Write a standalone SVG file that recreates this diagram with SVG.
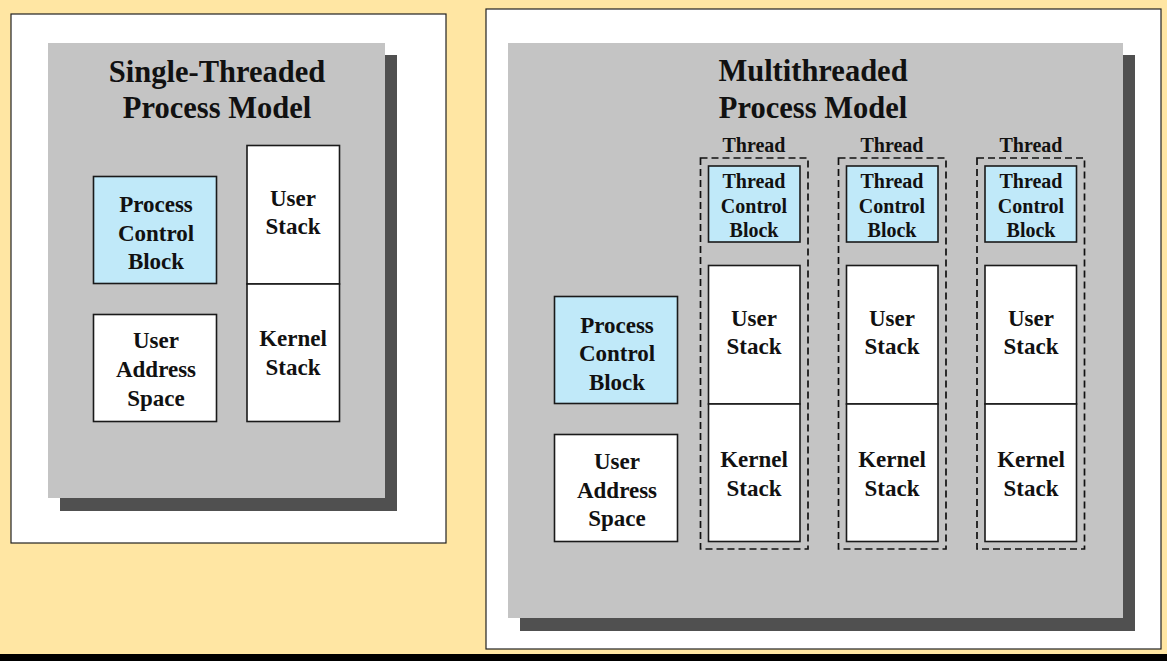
<svg xmlns="http://www.w3.org/2000/svg" width="1167" height="661" viewBox="0 0 1167 661">
  <style>
    .frame { fill: #ffffff; stroke: #222222; stroke-width: 1.2; }
    .panel { fill: #c4c4c4; }
    .shadow { fill: #505050; }
    .box { fill: #ffffff; stroke: #1a1a1a; stroke-width: 1.6; }
    .ctl { fill: #c0e9f9; stroke: #1a1a1a; stroke-width: 1.6; }
    .thread { fill: none; stroke: #111111; stroke-width: 1.7; stroke-dasharray: 7 4; }
    text { font-family: "Liberation Serif", "Times New Roman", serif; font-weight: bold; fill: #111111; text-anchor: middle; }
    .title { font-size: 30.5px; }
    .lbl { font-size: 23px; }
    .sm { font-size: 20px; }
  </style>

  <!-- page background -->
  <rect x="0" y="0" width="1167" height="661" fill="#ffe6a3"/>
  <rect x="0" y="654" width="1167" height="7" fill="#000000"/>

  <!-- single-threaded model -->
  <g id="single-threaded">
    <rect class="frame" x="11" y="14" width="435" height="529"/>
    <rect class="shadow" x="60" y="55" width="337" height="456"/>
    <rect class="panel" x="48" y="43" width="337" height="455"/>
    <text class="title" x="217" y="82">Single-Threaded</text>
    <text class="title" x="217" y="118">Process Model</text>

    <g id="st-pcb">
      <rect class="ctl" x="93.5" y="176.5" width="123" height="107"/>
      <text class="lbl" x="156" y="212">Process</text>
      <text class="lbl" x="156" y="241">Control</text>
      <text class="lbl" x="156" y="269">Block</text>
    </g>
    <g id="st-uas">
      <rect class="box" x="93.5" y="314.5" width="123" height="107"/>
      <text class="lbl" x="156" y="348">User</text>
      <text class="lbl" x="156" y="377">Address</text>
      <text class="lbl" x="156" y="406">Space</text>
    </g>
    <g id="st-user-stack">
      <rect class="box" x="247" y="145.5" width="92.5" height="138.5"/>
      <text class="lbl" x="293" y="206">User</text>
      <text class="lbl" x="293" y="234">Stack</text>
    </g>
    <g id="st-kernel-stack">
      <rect class="box" x="247" y="284" width="92.5" height="137.5"/>
      <text class="lbl" x="293" y="346">Kernel</text>
      <text class="lbl" x="293" y="375">Stack</text>
    </g>
  </g>

  <!-- multithreaded model -->
  <g id="multithreaded">
    <rect class="frame" x="486" y="9" width="675" height="640"/>
    <rect class="shadow" x="520" y="55" width="615" height="576"/>
    <rect class="panel" x="508" y="43" width="615" height="575"/>
    <text class="title" x="813" y="81">Multithreaded</text>
    <text class="title" x="813" y="118">Process Model</text>

    <g id="mt-pcb">
      <rect class="ctl" x="554.5" y="296.5" width="123" height="107"/>
      <text class="lbl" x="617" y="333">Process</text>
      <text class="lbl" x="617" y="361">Control</text>
      <text class="lbl" x="617" y="390">Block</text>
    </g>
    <g id="mt-uas">
      <rect class="box" x="554.5" y="434.5" width="123" height="107"/>
      <text class="lbl" x="617" y="469">User</text>
      <text class="lbl" x="617" y="498">Address</text>
      <text class="lbl" x="617" y="526">Space</text>
    </g>

    <g id="thread-1">
      <text class="sm" x="754" y="152">Thread</text>
      <rect class="thread" x="700.5" y="158" width="107.5" height="391"/>
      <rect class="ctl" x="708.5" y="166" width="91.5" height="76"/>
      <text class="sm" x="754" y="188">Thread</text>
      <text class="sm" x="754" y="213">Control</text>
      <text class="sm" x="754" y="237">Block</text>
      <rect class="box" x="708.5" y="265.5" width="91.5" height="138.5"/>
      <text class="lbl" x="754" y="326">User</text>
      <text class="lbl" x="754" y="354">Stack</text>
      <rect class="box" x="708.5" y="404" width="91.5" height="137.5"/>
      <text class="lbl" x="754" y="467">Kernel</text>
      <text class="lbl" x="754" y="496">Stack</text>
    </g>

    <g id="thread-2">
      <text class="sm" x="892" y="152">Thread</text>
      <rect class="thread" x="838.5" y="158" width="107.5" height="391"/>
      <rect class="ctl" x="846.5" y="166" width="91.5" height="76"/>
      <text class="sm" x="892" y="188">Thread</text>
      <text class="sm" x="892" y="213">Control</text>
      <text class="sm" x="892" y="237">Block</text>
      <rect class="box" x="846.5" y="265.5" width="91.5" height="138.5"/>
      <text class="lbl" x="892" y="326">User</text>
      <text class="lbl" x="892" y="354">Stack</text>
      <rect class="box" x="846.5" y="404" width="91.5" height="137.5"/>
      <text class="lbl" x="892" y="467">Kernel</text>
      <text class="lbl" x="892" y="496">Stack</text>
    </g>

    <g id="thread-3">
      <text class="sm" x="1031" y="152">Thread</text>
      <rect class="thread" x="977" y="158" width="107.5" height="391"/>
      <rect class="ctl" x="985" y="166" width="91.5" height="76"/>
      <text class="sm" x="1031" y="188">Thread</text>
      <text class="sm" x="1031" y="213">Control</text>
      <text class="sm" x="1031" y="237">Block</text>
      <rect class="box" x="985" y="265.5" width="91.5" height="138.5"/>
      <text class="lbl" x="1031" y="326">User</text>
      <text class="lbl" x="1031" y="354">Stack</text>
      <rect class="box" x="985" y="404" width="91.5" height="137.5"/>
      <text class="lbl" x="1031" y="467">Kernel</text>
      <text class="lbl" x="1031" y="496">Stack</text>
    </g>
  </g>

  <!-- no connectors in this figure -->
  <g id="connectors"/>
</svg>
